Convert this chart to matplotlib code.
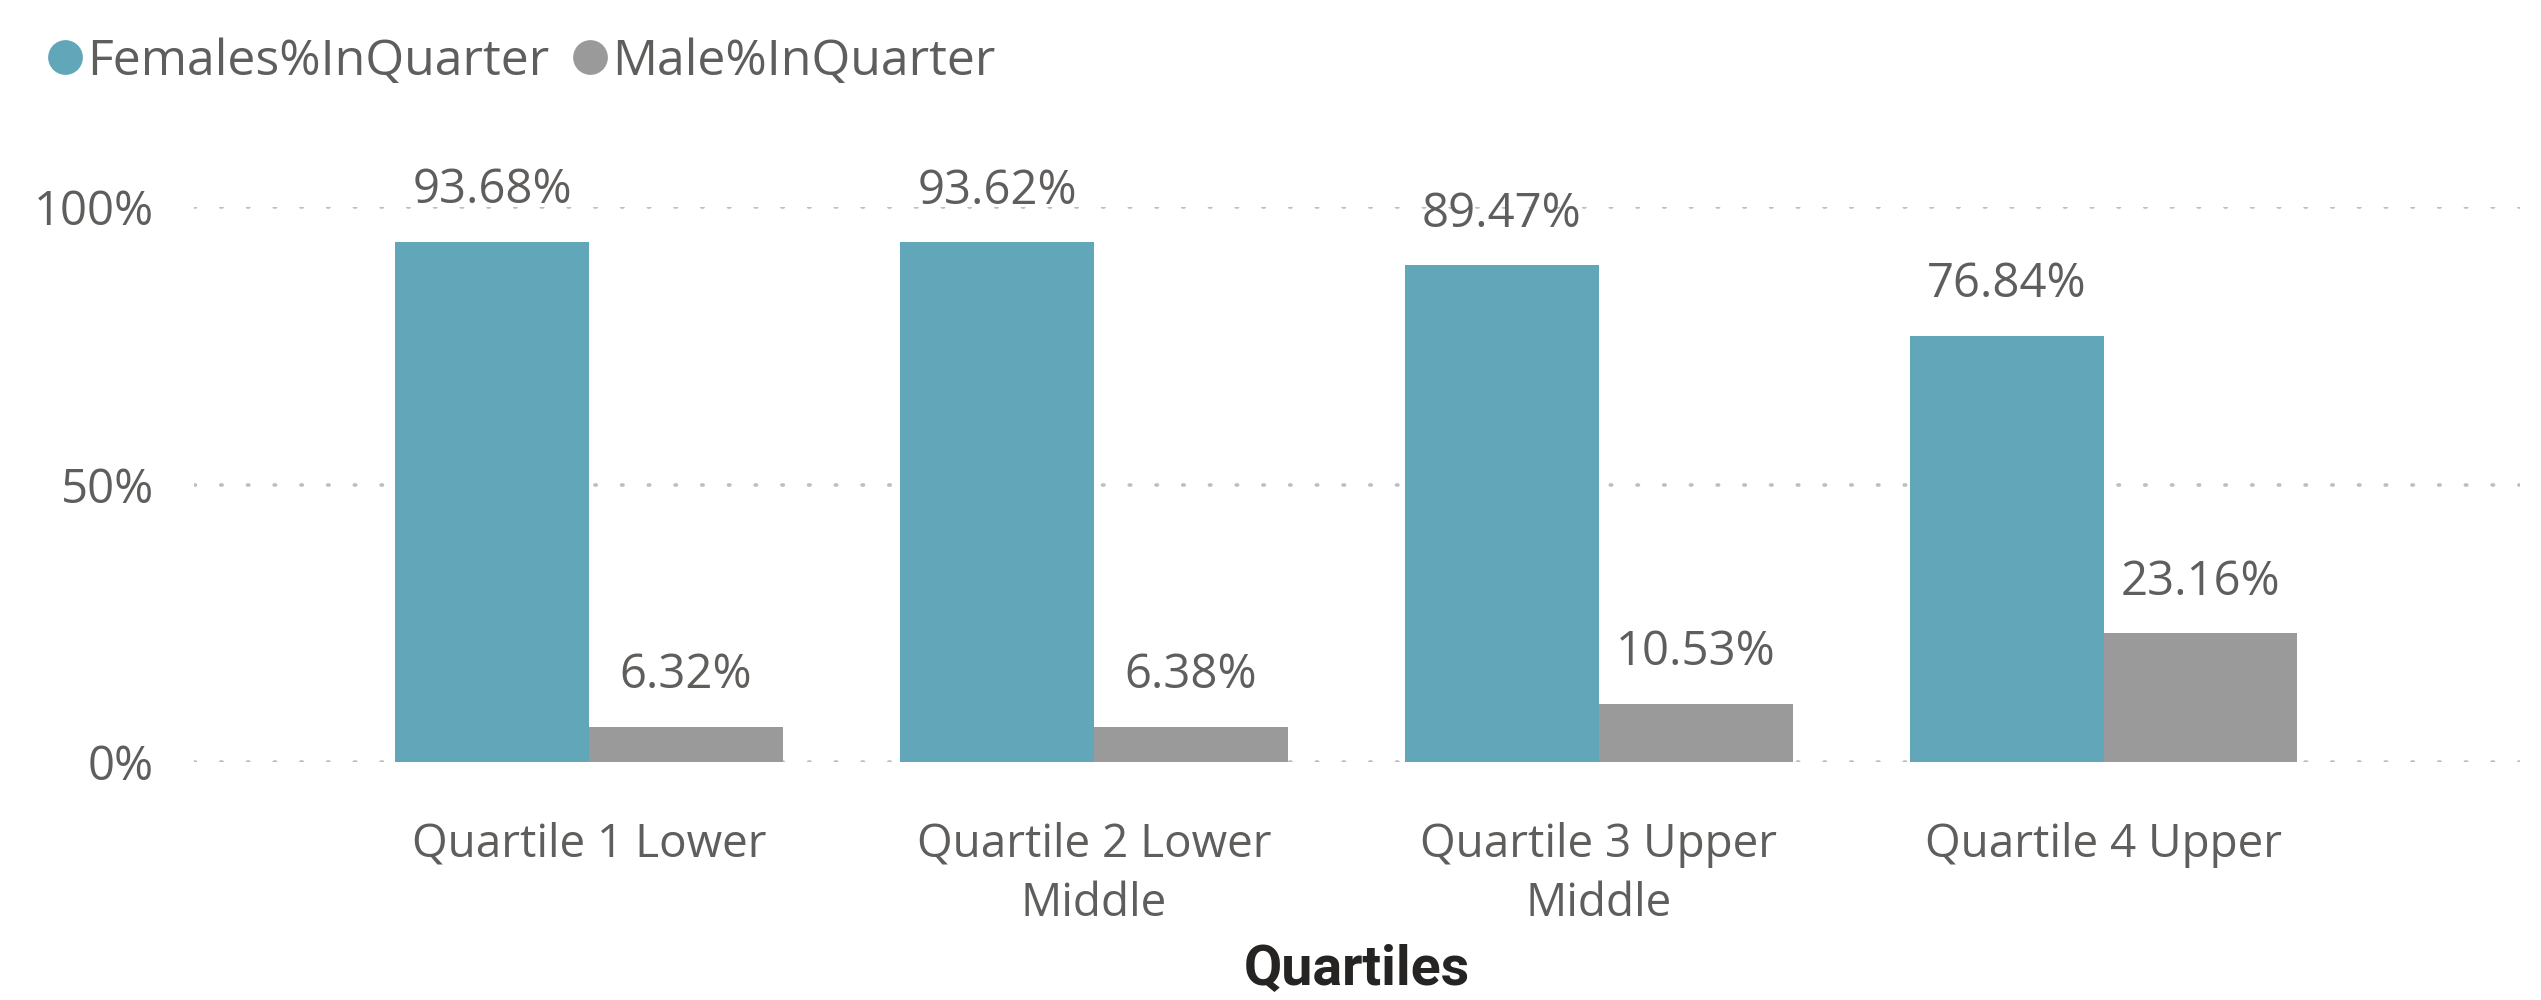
import numpy as np
import matplotlib.pyplot as plt
from matplotlib.lines import Line2D

quartiles = ['Quartile 1 Lower', 'Quartile 2 Lower\nMiddle', 'Quartile 3 Upper\nMiddle', 'Quartile 4 Upper']
females_pct = [93.68, 93.62, 89.47, 76.84]
males_pct = [6.32, 6.38, 10.53, 23.16]
y_ticks = [0, 50, 100]

female_col = '#62A6B9'
male_col = '#9A9A9A'
text_col = '#605E5C'

plt.rcParams['font.family'] = ['Open Sans', 'DejaVu Sans']

fig = plt.figure(figsize=(25.41, 10), dpi=100)
ax = fig.add_axes([194/2541, 1 - 762/1000, (2520 - 194)/2541, 555/1000])

x = np.arange(len(quartiles))
w = 0.384
ax.bar(x - w/2, females_pct, w, color=female_col, zorder=3)
ax.bar(x + w/2, males_pct, w, color=male_col, zorder=3)

# value labels above each bar
for xs, vals in [(x - w/2, females_pct), (x + w/2, males_pct)]:
    for xi, v in zip(xs, vals):
        ax.annotate(f'{v:.2f}%', (xi, v), xytext=(0, 37), textcoords='offset points',
                    ha='center', va='center', fontsize=34, color=text_col)

ax.set_xlim(-0.783, 3.825)
ax.set_ylim(0, 100)
ax.set_yticks(y_ticks)
ax.set_yticklabels([f'{t}%' for t in y_ticks])
ax.set_xticks(x)
ax.set_xticklabels(quartiles, linespacing=1.38)
ax.tick_params(axis='y', length=0, pad=29, labelsize=34, labelcolor=text_col)
ax.tick_params(axis='x', length=0, pad=43, labelsize=33, labelcolor=text_col)
for s in ax.spines.values():
    s.set_visible(False)
ax.yaxis.grid(True, color='#BEBEBE', linewidth=2.6, linestyle=(0, (0.4, 7)),
              dash_capstyle='round', zorder=0)
ax.set_axisbelow(True)

ax.set_xlabel('Quartiles', fontsize=40, fontweight='bold', color='#252423',
              family=['Roboto', 'DejaVu Sans'], labelpad=12)

handles = [Line2D([], [], marker='o', linestyle='none', markersize=24, color=female_col),
           Line2D([], [], marker='o', linestyle='none', markersize=24, color=male_col)]
fig.legend(handles, ['Females%InQuarter', 'Male%InQuarter'], loc='center left',
           bbox_to_anchor=(50/2541, 1 - 62/1000), ncol=2, frameon=False, fontsize=36,
           labelcolor=text_col, handlelength=0.6, handletextpad=0.15, columnspacing=0.5,
           borderpad=0, borderaxespad=0)

fig.savefig('out.png', dpi=100)
